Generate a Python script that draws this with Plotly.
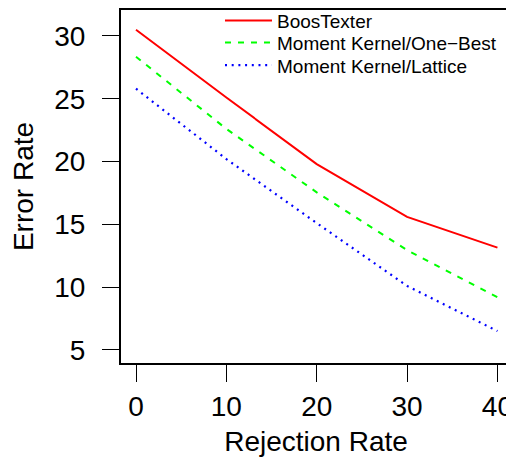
import plotly.graph_objects as go

rejection_rate = [0, 10, 20, 30, 40]
boostexter = [30.5, 25.1, 19.8, 15.6, 13.15]
moment_one_best = [28.35, 22.6, 17.55, 12.95, 9.2]
moment_lattice = [25.8, 20.2, 15.1, 10.1, 6.5]

x_ticks = [0, 10, 20, 30, 40]
y_ticks = [5, 10, 15, 20, 25, 30]

FONT = "Liberation Sans, Arial, Helvetica, sans-serif"

fig = go.Figure()
fig.add_trace(go.Scatter(x=rejection_rate, y=boostexter, mode="lines",
                         name="BoosTexter", legend="legend",
                         line=dict(color="#FF0000", width=2)))
fig.add_trace(go.Scatter(x=rejection_rate, y=moment_one_best, mode="lines",
                         name="Moment Kernel/One\u2212Best", legend="legend2",
                         line=dict(color="#00FF00", width=2, dash="6px,7px")))
fig.add_trace(go.Scatter(x=rejection_rate, y=moment_lattice, mode="lines",
                         name="Moment Kernel/Lattice", legend="legend3",
                         line=dict(color="#0000FF", width=2.2, dash="2px,4.7px")))

def leg(y):
    return dict(x=0.2538, y=y, xanchor="left", yanchor="middle",
                bgcolor="rgba(0,0,0,0)", borderwidth=0,
                font=dict(size=19, family=FONT, color="black"),
                itemwidth=47)

fig.update_layout(
    width=506, height=449,
    margin=dict(l=113, r=3, t=2, b=94, autoexpand=False),
    paper_bgcolor="white", plot_bgcolor="white",
    font=dict(family=FONT, color="black"),
    showlegend=True,
    legend=leg(0.9697),
    legend2=leg(0.9074),
    legend3=leg(0.8433),
    xaxis=dict(range=[-1.66, 41.5], tickvals=x_ticks,
               ticktext=[str(v) for v in x_ticks],
               showgrid=False, zeroline=False, automargin=False,
               showline=True, linecolor="black", linewidth=2, mirror=True,
               ticks="outside", ticklen=17, tickwidth=1.2, tickcolor="black",
               ticklabelstandoff=0,
               tickfont=dict(size=28, family=FONT),
               title=dict(text="Rejection Rate", font=dict(size=28, family=FONT),
                          standoff=19)),
    yaxis=dict(range=[3.96, 32.07], tickvals=y_ticks,
               ticktext=[str(v) for v in y_ticks],
               showgrid=False, zeroline=False, automargin=False,
               showline=True, linecolor="black", linewidth=2, mirror=True,
               ticks="outside", ticklen=17, tickwidth=1.2, tickcolor="black",
               ticklabelstandoff=11,
               tickfont=dict(size=28, family=FONT),
               title=dict(text="Error Rate", font=dict(size=28, family=FONT),
                          standoff=12)),
)

fig.write_html("out.html")
